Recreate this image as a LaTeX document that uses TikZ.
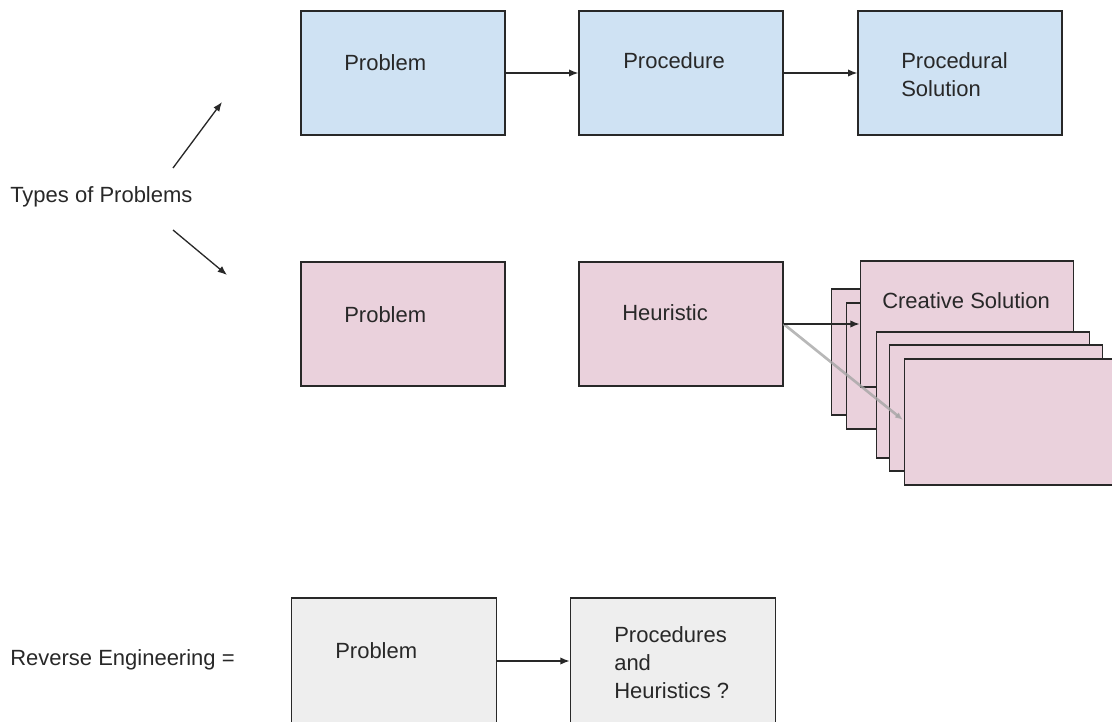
\documentclass[tikz,border=0pt]{standalone}
\usepackage{fontspec}
\setmainfont{Liberation Sans}
\usetikzlibrary{arrows.meta}
\usetikzlibrary{positioning}
\definecolor{custom-blue}{RGB}{207, 226, 243}
\definecolor{custom-pink}{RGB}{234, 209, 220}
\definecolor{custom-grey}{RGB}{238, 238, 238}
\definecolor{custom-line}{RGB}{40, 40, 40}

\tikzset{
  box/.style={draw=custom-line, line width=1pt, minimum width=153pt, minimum height=93pt, inner sep=0pt},
  card/.style={box, fill=custom-pink, minimum width=160pt, minimum height=94.5pt},
  txt/.style={anchor=west, align=left, inner sep=0pt, text=custom-line, font=\fontsize{16.5}{21}\selectfont},
  arr/.style={draw=custom-line, line width=1pt, -{Latex[length=7pt, width=5.5pt]}}
}

\begin{document}
\begin{tikzpicture}[x=0.75pt, y=-0.75pt]
\useasboundingbox (0,0) rectangle (1112,721);

% procedural row
\node[box, fill=custom-blue] (prob1) at (403,73) {};
\node[box, fill=custom-blue] (proc) at (681,73) {};
\node[box, fill=custom-blue] (procsol) at (960,73) {};
\node[txt] (prob1-t) at (344,63) {Problem};
\node[txt] (proc-t) at (623,61) {Procedure};
\node[txt] (procsol-t) at (901,75) {Procedural\\Solution};
\draw[arr] (prob1) -- (proc);
\draw[arr] (proc) -- (procsol);

% heuristic row
\node[box, fill=custom-pink] (prob2) at (403,324) {};
\node[box, fill=custom-pink] (heur) at (681,324) {};
\node[card] (cardA) at (938,352) {};
\node[card] (cardB) at (953,366) {};
\node[card] (creative) at (967,324) {};
\node[card] (cardC) at (983,395) {};
\node[card] (cardD) at (996,408) {};
\coordinate (grey-end) at (903,420);
\draw[draw=gray!70, line width=2pt, opacity=0.8, -{Latex[length=6pt, width=5pt]}] (heur.east) -- (grey-end);
\node[card] (cardE) at (1011,422) {};
\node[txt] (prob2-t) at (344,315) {Problem};
\node[txt] (heur-t) at (622,313) {Heuristic};
\node[txt] (creative-t) at (882,301) {Creative Solution};
\draw[arr] (heur) -- (creative);

% left labels
\node[txt] (types) at (10,197) {Types of Problems};
\coordinate (up-s) at (173,168);
\coordinate (up-e) at (222,102);
\coordinate (down-s) at (173,230);
\coordinate (down-e) at (227,275);
\draw[arr] (up-s) -- (up-e);
\draw[arr] (down-s) -- (down-e);

% reverse engineering row
\node[txt] (reverse) at (10,660) {Reverse Engineering =};
\node[box, fill=custom-grey, minimum width=154pt, minimum height=94.5pt] (prob3) at (394,661) {};
\node[box, fill=custom-grey, minimum width=154pt, minimum height=94.5pt] (prochr) at (673,661) {};
\node[txt] (prob3-t) at (335,651) {Problem};
\node[txt] (prochr-t) at (614,663) {Procedures\\and\\Heuristics ?};
\draw[arr] (prob3) -- (prochr);

\end{tikzpicture}
\end{document}
